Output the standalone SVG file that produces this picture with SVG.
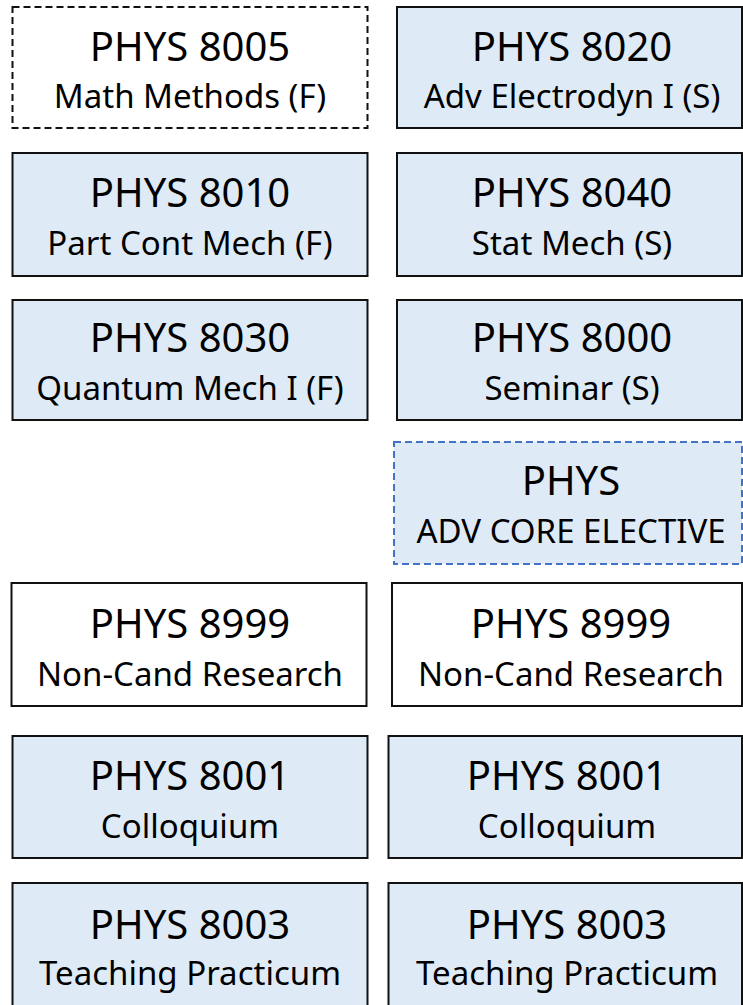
<svg xmlns="http://www.w3.org/2000/svg" width="743" height="1005" viewBox="0 0 743 1005">
<style>
.box{fill:#DEEBF7;stroke:#111;stroke-width:2}
.wbox{fill:#fff;stroke:#111;stroke-width:2}
.dash{fill:#fff;stroke:#111;stroke-width:2;stroke-dasharray:7 4}
.bdash{fill:#DEEBF7;stroke:#4472C4;stroke-width:2;stroke-dasharray:7 4}
.t{font-family:"Noto Sans","Liberation Sans",sans-serif;font-size:40px;fill:#000;text-anchor:middle}
.s{font-family:"Noto Sans","Liberation Sans",sans-serif;font-size:33px;fill:#000;text-anchor:middle}
</style>
<rect width="743" height="1005" fill="#fff"/>
<g id="phys8005"><rect class="dash" x="12.5" y="7" width="355" height="121"/><text class="t" x="190" y="61">PHYS 8005</text><text class="s" x="190" y="108">Math Methods (F)</text></g>
<g id="phys8020"><rect class="box" x="397" y="7" width="345" height="121"/><text class="t" x="572" y="61">PHYS 8020</text><text class="s" x="572" y="108">Adv Electrodyn I (S)</text></g>
<g id="phys8010"><rect class="box" x="12.5" y="153" width="355" height="123"/><text class="t" x="190" y="207">PHYS 8010</text><text class="s" x="190" y="255">Part Cont Mech (F)</text></g>
<g id="phys8040"><rect class="box" x="397" y="153" width="345" height="123"/><text class="t" x="572" y="207">PHYS 8040</text><text class="s" x="572" y="255">Stat Mech (S)</text></g>
<g id="phys8030"><rect class="box" x="12.5" y="300" width="355" height="120"/><text class="t" x="190" y="352">PHYS 8030</text><text class="s" x="190" y="400">Quantum Mech I (F)</text></g>
<g id="phys8000"><rect class="box" x="397" y="300" width="345" height="120"/><text class="t" x="572" y="352">PHYS 8000</text><text class="s" x="572" y="400">Seminar (S)</text></g>
<g id="physElective"><rect class="bdash" x="394" y="442" width="348" height="122"/><text class="t" x="571" y="495">PHYS</text><text class="s" x="571" y="543">ADV CORE ELECTIVE</text></g>
<g id="phys8999a"><rect class="wbox" x="11.5" y="583" width="355" height="123"/><text class="t" x="190" y="638">PHYS 8999</text><text class="s" x="190" y="686">Non-Cand Research</text></g>
<g id="phys8999b"><rect class="wbox" x="392" y="583" width="350" height="123"/><text class="t" x="571" y="638">PHYS 8999</text><text class="s" x="571" y="686">Non-Cand Research</text></g>
<g id="phys8001a"><rect class="box" x="12.5" y="736" width="355" height="122"/><text class="t" x="190" y="790">PHYS 8001</text><text class="s" x="190" y="838">Colloquium</text></g>
<g id="phys8001b"><rect class="box" x="388.5" y="736" width="353.5" height="122"/><text class="t" x="567" y="790">PHYS 8001</text><text class="s" x="567" y="838">Colloquium</text></g>
<g id="phys8003a"><rect class="box" x="12.5" y="883" width="355" height="130"/><text class="t" x="190" y="939">PHYS 8003</text><text class="s" x="190" y="985">Teaching Practicum</text></g>
<g id="phys8003b"><rect class="box" x="388.5" y="883" width="353.5" height="130"/><text class="t" x="567" y="939">PHYS 8003</text><text class="s" x="567" y="985">Teaching Practicum</text></g>
<g id="connectors"></g>
</svg>
